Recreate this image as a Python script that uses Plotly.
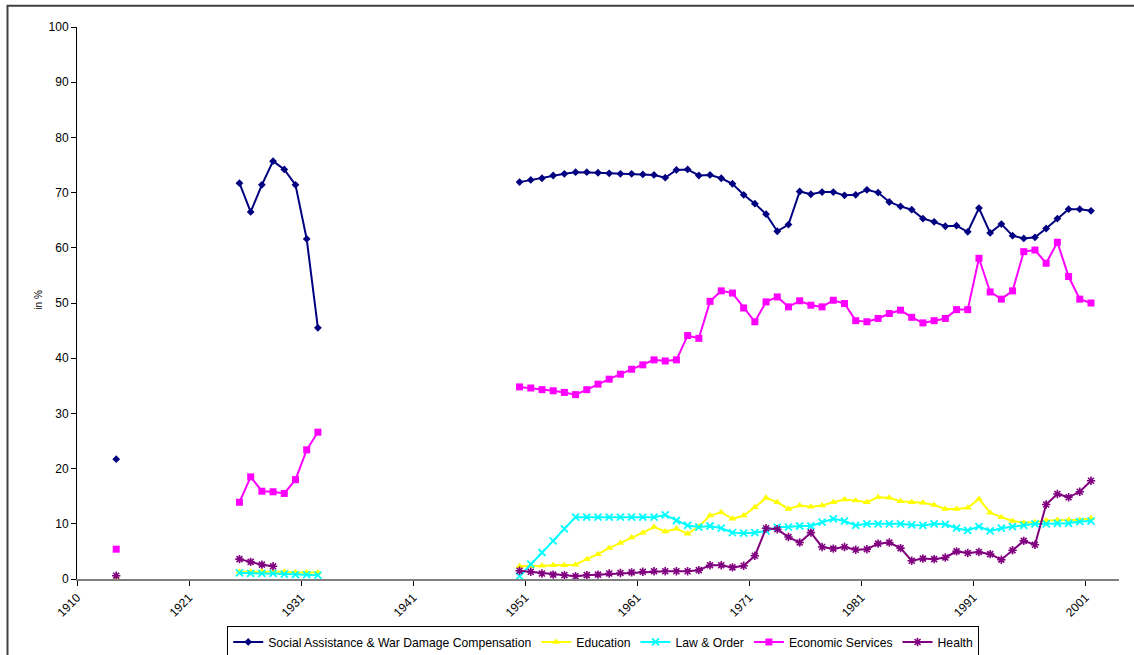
import plotly.graph_objects as go

# ---- data ----
years_1914 = [1914]
years_pre = [1925, 1926, 1927, 1928, 1929, 1930, 1931, 1932]
years_post = list(range(1950, 2002))

social_1914 = [21.7]
social_pre = [71.7, 66.5, 71.4, 75.7, 74.2, 71.4, 61.6, 45.5]
social_post = [71.9, 72.3, 72.6, 73.1, 73.4, 73.7, 73.7, 73.6, 73.5, 73.4,
               73.4, 73.3, 73.2, 72.7, 74.1, 74.2, 73.1, 73.2, 72.6, 71.6,
               69.6, 68.0, 66.1, 63.0, 64.2, 70.2, 69.7, 70.1, 70.1, 69.5,
               69.6, 70.5, 70.0, 68.3, 67.5, 66.9, 65.3, 64.7, 63.9, 64.0,
               62.9, 67.2, 62.7, 64.3, 62.2, 61.7, 61.9, 63.5, 65.3, 67.0,
               67.0, 66.7]

education_1914 = [0.2]
education_pre = [1.3, 1.3, 1.4, 1.3, 1.3, 1.2, 1.2, 1.2]
education_post = [2.3, 2.3, 2.4, 2.5, 2.5, 2.6, 3.6, 4.5, 5.6, 6.5,
                  7.5, 8.4, 9.4, 8.6, 9.1, 8.2, 9.5, 11.5, 12.1, 10.9,
                  11.5, 13.0, 14.7, 13.9, 12.7, 13.3, 13.1, 13.3, 13.9, 14.4,
                  14.2, 13.9, 14.8, 14.7, 14.1, 13.9, 13.8, 13.4, 12.7, 12.7,
                  12.9, 14.5, 12.0, 11.2, 10.5, 10.2, 10.3, 10.6, 10.7, 10.7,
                  10.7, 11.0]

law_pre = [1.1, 1.0, 1.0, 1.0, 0.9, 0.8, 0.8, 0.7]
law_post = [0.5, 2.7, 4.8, 6.9, 9.1, 11.2, 11.2, 11.2, 11.2, 11.2,
            11.2, 11.2, 11.2, 11.6, 10.6, 9.7, 9.4, 9.6, 9.2, 8.4,
            8.3, 8.4, 8.7, 9.4, 9.4, 9.6, 9.6, 10.3, 10.9, 10.5,
            9.7, 10.0, 10.0, 10.0, 10.0, 9.8, 9.7, 10.0, 9.9, 9.2,
            8.8, 9.5, 8.7, 9.2, 9.5, 9.7, 10.0, 10.0, 10.1, 10.1,
            10.4, 10.5]

econ_1914 = [5.4]
econ_pre = [13.9, 18.5, 15.9, 15.8, 15.5, 18.0, 23.4, 26.6]
econ_post = [34.8, 34.6, 34.3, 34.1, 33.8, 33.4, 34.3, 35.3, 36.2, 37.1,
             38.0, 38.8, 39.7, 39.5, 39.7, 44.1, 43.6, 50.3, 52.2, 51.8,
             49.1, 46.6, 50.2, 51.1, 49.3, 50.4, 49.6, 49.3, 50.5, 49.9,
             46.8, 46.6, 47.2, 48.1, 48.7, 47.4, 46.4, 46.8, 47.2, 48.8,
             48.8, 58.1, 52.0, 50.7, 52.2, 59.3, 59.6, 57.2, 61.0, 54.8,
             50.7, 50.0]

health_1914 = [0.6]
years_health_pre = [1925, 1926, 1927, 1928]
health_pre = [3.6, 3.1, 2.6, 2.3]
health_post = [1.5, 1.3, 1.0, 0.8, 0.7, 0.5, 0.7, 0.8, 1.0, 1.1,
               1.2, 1.3, 1.4, 1.4, 1.4, 1.4, 1.6, 2.5, 2.5, 2.1,
               2.4, 4.2, 9.2, 9.0, 7.6, 6.6, 8.4, 5.8, 5.5, 5.8,
               5.3, 5.4, 6.4, 6.6, 5.6, 3.3, 3.7, 3.6, 3.9, 5.0,
               4.7, 4.9, 4.5, 3.5, 5.2, 6.9, 6.2, 13.5, 15.4, 14.8,
               15.8, 17.8]

tick_vals = [1910.5, 1920.5, 1930.5, 1940.5, 1950.5, 1960.5, 1970.5, 1980.5, 1990.5, 2000.5]
tick_text = ["1910", "1921", "1931", "1941", "1951", "1961", "1971", "1981", "1991", "2001"]


def join(*segments):
    xs, ys = [], []
    for i, (sx, sy) in enumerate(segments):
        if i > 0:
            xs.append(None)
            ys.append(None)
        xs.extend(sx)
        ys.extend(sy)
    return xs, ys


series = [
    ("Social Assistance & War Damage Compensation", "#000080", "diamond", 6, 0,
     [(years_1914, social_1914), (years_pre, social_pre), (years_post, social_post)]),
    ("Education", "#FFFF00", "triangle-up", 7, 0,
     [(years_1914, education_1914), (years_pre, education_pre), (years_post, education_post)]),
    ("Law & Order", "#00FFFF", "x-thin-open", 7, 1.8,
     [(years_pre, law_pre), (years_post, law_post)]),
    ("Economic Services", "#FF00FF", "square", 7, 0,
     [(years_1914, econ_1914), (years_pre, econ_pre), (years_post, econ_post)]),
    ("Health", "#800080", "asterisk-open", 7, 1.6,
     [(years_1914, health_1914), (years_health_pre, health_pre), (years_post, health_post)]),
]

fig = go.Figure()
for name, color, symbol, size, lw, segs in series:
    xs, ys = join(*segs)
    marker = dict(symbol=symbol, size=size, color=color)
    if lw:
        marker["line"] = dict(color=color, width=lw)
    else:
        marker["line"] = dict(width=0)
    fig.add_trace(go.Scatter(
        x=xs, y=ys, name=name, mode="lines+markers",
        line=dict(color=color, width=2), marker=marker,
    ))

fig.update_layout(
    width=1134, height=655,
    margin=dict(l=77, r=15, t=27, b=76, autoexpand=False),
    paper_bgcolor="white", plot_bgcolor="white",
    font=dict(family="Liberation Sans, Arial, sans-serif", size=12, color="black"),
    showlegend=True,
    legend=dict(orientation="h", x=0.505, xanchor="center", y=-0.086, yanchor="top",
                bordercolor="black", borderwidth=1, bgcolor="white",
                font=dict(size=12.2), itemwidth=30, tracegroupgap=0),
)
fig.update_xaxes(
    range=[1910.5, 2003.5], tickmode="array", tickvals=tick_vals, ticktext=tick_text,
    tickangle=-45, showgrid=False, zeroline=False,
    showline=True, linecolor="#808080", linewidth=2,
    ticks="outside", ticklen=5, tickcolor="black", tickwidth=1,
    tickfont=dict(size=12),
)
fig.update_yaxes(
    range=[0, 100], dtick=10, showgrid=False, zeroline=False,
    showline=True, linecolor="black", linewidth=1,
    ticks="outside", ticklen=5, tickcolor="black",
    tickfont=dict(size=12),
)
fig.add_annotation(text="in %", xref="paper", yref="paper", x=-0.0437, y=0.506,
                   textangle=-90, showarrow=False, font=dict(size=10))
fig.add_shape(type="rect", xref="paper", yref="paper",
              x0=-0.0667, x1=1.02, y0=-0.16, y1=1.0386,
              line=dict(color="#404040", width=2), layer="below")

fig.write_html("out.html", config={"displayModeBar": False},
               post_script="document.body.style.margin='0';")
